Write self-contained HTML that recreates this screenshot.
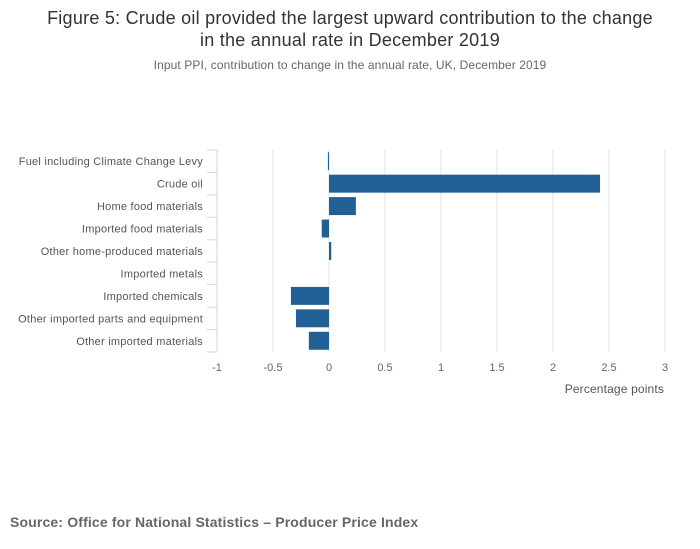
<!DOCTYPE html>
<html><head><meta charset="utf-8"><style>
body{margin:0;background:#fff;font-family:"Liberation Sans",sans-serif;}
#wrap{position:relative;width:700px;height:549px;overflow:hidden;}
</style></head><body>
<div id="wrap">
<svg id="chart" width="700" height="549">
<text x="350" y="24" text-anchor="middle" font-size="18" letter-spacing="0.25" fill="#333">Figure 5: Crude oil provided the largest upward contribution to the change</text>
<text x="350" y="46" text-anchor="middle" font-size="18" letter-spacing="0.25" fill="#333">in the annual rate in December 2019</text>
<text x="350" y="69" text-anchor="middle" font-size="12" letter-spacing="0.1" fill="#666">Input PPI, contribution to change in the annual rate, UK, December 2019</text>
<text x="664" y="393" text-anchor="end" font-size="12" letter-spacing="0.15" fill="#555">Percentage points</text>
<text x="10" y="527" font-size="14" font-weight="bold" letter-spacing="0.15" fill="#666">Source: Office for National Statistics – Producer Price Index</text>
<g id="grid"></g><g id="bars"></g><g id="axes"></g>
</svg></div>
<script>
const categories=["Fuel including Climate Change Levy","Crude oil","Home food materials","Imported food materials","Other home-produced materials","Imported metals","Imported chemicals","Other imported parts and equipment","Other imported materials"];
const values=[-0.01,2.42,0.24,-0.065,0.02,0,-0.34,-0.295,-0.18];
const xTicks=[-1,-0.5,0,0.5,1,1.5,2,2.5,3];
const xTickLabels=["-1","-0.5","0","0.5","1","1.5","2","2.5","3"];
const NS="http://www.w3.org/2000/svg";
const L=217,R=665,T=150,B=352,xmin=-1,xmax=3;
const x=v=>L+(v-xmin)/(xmax-xmin)*(R-L);
const band=(B-T)/categories.length;
const y=i=>T+i*band;
function mk(tag,attrs,parent){const e=document.createElementNS(NS,tag);for(const k in attrs)e.setAttribute(k,attrs[k]);document.getElementById(parent).appendChild(e);return e;}
xTicks.forEach((t,i)=>{
 if(i>0){const g=mk('line',{x1:x(t),x2:x(t),y1:T,y2:B,stroke:'#e0e0e0','stroke-width':1},'grid');
 
 }
 const tx=mk('text',{x:x(t),y:371,'text-anchor':'middle','font-size':11,fill:'#666'},'axes');
 tx.textContent=xTickLabels[i];
 
 
});
categories.forEach((c,i)=>{
 const v=values[i];
 const r=mk('rect',{x:Math.min(x(0),x(v)),y:y(i)+band*0.1,width:Math.abs(x(v)-x(0)),height:band*0.8,fill:'#206095'},'bars');
 
 
 const tx=mk('text',{x:203,y:y(i)+band/2+4,'text-anchor':'end','font-size':11,'letter-spacing':0.24,fill:'#555'},'axes');
 tx.textContent=c;
 
 
});
for(let i=0;i<=categories.length;i++){
 const t=mk('line',{x1:207,x2:L,y1:y(i),y2:y(i),stroke:'#ccd6eb','stroke-width':1},'axes');
 
 
}
const ax=mk('line',{x1:L,x2:L,y1:T,y2:B,stroke:'#ccd6eb','stroke-width':1},'axes');


</script>
</body></html>
